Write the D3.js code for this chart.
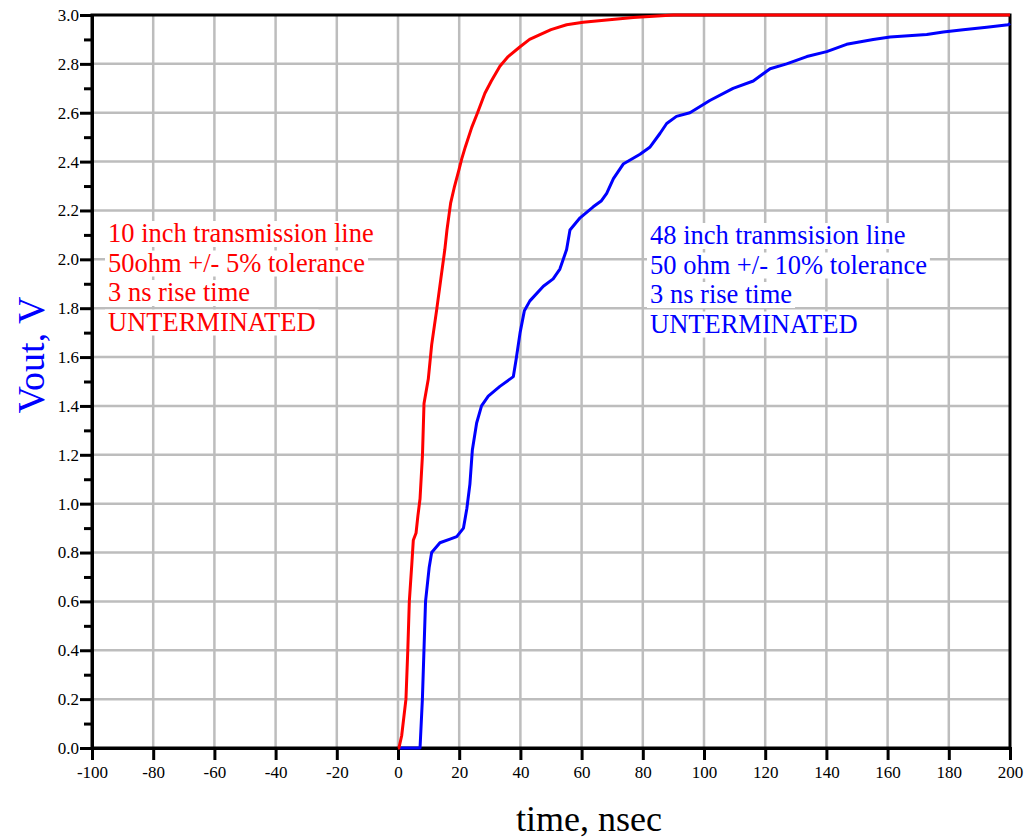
<!DOCTYPE html>
<html>
<head>
<meta charset="utf-8">
<script src="https://cdn.jsdelivr.net/npm/d3@7"></script>
<style>
  body { margin: 0; background: #fff; }
  svg { display: block; font-family: "Liberation Serif", "Times New Roman", serif; }
</style>
</head>
<body>
<svg id="chart"></svg>
<script>
// values (time in ns, Vout in V)
const redTime  = [0, 0.3, 1.2, 2.6, 3.2, 3.7, 4.5, 5.0, 5.9, 6.5, 7.2, 8.0, 8.5, 9.9, 11, 12.6, 14, 15.3, 16, 17.2, 18.5, 20, 20.8, 22, 24.1, 26, 28.4, 30.5, 33.3, 36, 39.9, 43, 46.4, 50, 55.1, 60.5, 68.2, 76.9, 90, 200];
const redVolts = [0, 0, 0.05, 0.2, 0.4, 0.6, 0.75, 0.85, 0.88, 0.95, 1.02, 1.2, 1.41, 1.51, 1.65, 1.79, 1.92, 2.04, 2.12, 2.23, 2.3, 2.37, 2.41, 2.46, 2.54, 2.6, 2.68, 2.73, 2.79, 2.83, 2.87, 2.9, 2.92, 2.94, 2.96, 2.97, 2.98, 2.99, 3.0, 3.0];

const blueTime  = [0.5, 7.2, 7.97, 9.0, 10.2, 11.0, 13.7, 17, 19.2, 21.4, 22.5, 23.5, 24.3, 25.7, 27.3, 29.5, 33.3, 37.7, 38.6, 39.9, 41.3, 43.1, 47.5, 50.7, 52.9, 55.1, 56.2, 59.5, 63.8, 66.5, 68.2, 70.4, 73.6, 79.1, 82.4, 85.6, 87.8, 91, 95.4, 101.9, 109.5, 116.1, 121.6, 127, 133.6, 140.1, 146.6, 155.3, 160.8, 172.8, 178.2, 184.7, 192.4, 199.4, 200];
const blueVolts = [0, 0, 0.2, 0.6, 0.74, 0.8, 0.84, 0.855, 0.865, 0.9, 0.98, 1.08, 1.22, 1.33, 1.4, 1.44, 1.48, 1.52, 1.59, 1.7, 1.79, 1.83, 1.89, 1.92, 1.96, 2.04, 2.12, 2.17, 2.215, 2.24, 2.27, 2.33, 2.39, 2.43, 2.46, 2.515, 2.556, 2.585, 2.6, 2.65, 2.7, 2.73, 2.78, 2.8, 2.83, 2.85, 2.88, 2.9, 2.91, 2.92, 2.93, 2.94, 2.95, 2.96, 2.965];

const xTicks = d3.range(-100, 201, 20);
const yTicks = d3.range(0, 31, 2).map(d => d / 10);
const yMinor = d3.range(1, 30, 2).map(d => d / 10);

const redNotes  = ["10 inch transmission line", "50ohm +/- 5% tolerance", "3 ns rise time", "UNTERMINATED"];
const blueNotes = ["48 inch tranmsision line", "50 ohm +/- 10% tolerance", "3 ns rise time", "UNTERMINATED"];

const width = 1026, height = 839;
const margin = { top: 15, right: 16, bottom: 91, left: 92 };

const x = d3.scaleLinear().domain([-100, 200]).range([margin.left, width - margin.right]);
const y = d3.scaleLinear().domain([0, 3]).range([height - margin.bottom, margin.top]);

const svg = d3.select("#chart")
    .attr("width", width)
    .attr("height", height)
    .attr("viewBox", `0 0 ${width} ${height}`);

// grid
const grid = svg.append("g").attr("stroke", "#bdbdbd").attr("stroke-width", 2.5);
grid.selectAll(".vg")
  .data(xTicks.slice(1, -1))
  .enter().append("line")
    .attr("x1", d => x(d)).attr("x2", d => x(d))
    .attr("y1", y(3)).attr("y2", y(0));
grid.selectAll(".hg")
  .data(yTicks.slice(1, -1))
  .enter().append("line")
    .attr("x1", x(-100)).attr("x2", x(200))
    .attr("y1", d => y(d)).attr("y2", d => y(d));

// notes with white boxes behind each line
function notes(lines, tx, ty, color) {
  const g = svg.append("g");
  lines.forEach((s, i) => {
    const row = g.append("g");
    const t = row.append("text")
        .attr("x", tx)
        .attr("y", ty + i * 29.5)
        .attr("fill", color)
        .style("font-size", "26.5px")
        .text(s);
    const b = t.node().getBBox();
    row.insert("rect", "text")
        .attr("x", b.x - 3).attr("y", b.y + 3)
        .attr("width", b.width + 6).attr("height", b.height - 4)
        .attr("fill", "#fff");
  });
}
notes(redNotes, 108, 242, "#ff0000");
notes(blueNotes, 650, 244, "#0000ff");

// frame
svg.append("rect")
    .attr("x", x(-100)).attr("y", y(3))
    .attr("width", x(200) - x(-100)).attr("height", y(0) - y(3))
    .attr("fill", "none").attr("stroke", "#000").attr("stroke-width", 3);

// axes
const tickFont = g => g.selectAll(".tick text")
    .attr("fill", "#000")
    .style("font-size", "17px")
    .style("font-family", "Liberation Serif");

svg.append("g")
    .attr("transform", `translate(0,${y(0)})`)
    .call(d3.axisBottom(x).tickValues(xTicks).tickSize(12).tickPadding(6).tickFormat(d => String(d)))
    .call(g => g.select(".domain").attr("stroke-width", 3))
    .call(g => g.selectAll(".tick line").attr("stroke-width", 3))
    .call(tickFont);

svg.append("g")
    .attr("transform", `translate(${x(-100)},0)`)
    .call(d3.axisLeft(y).tickValues(yMinor).tickSize(8).tickFormat(""))
    .call(g => g.select(".domain").remove())
    .call(g => g.selectAll(".tick line").attr("stroke-width", 3));

svg.append("g")
    .attr("transform", `translate(${x(-100)},0)`)
    .call(d3.axisLeft(y).tickValues(yTicks).tickSize(12).tickPadding(1).tickFormat(d3.format(".1f")))
    .call(g => g.select(".domain").attr("stroke-width", 3))
    .call(g => g.selectAll(".tick line").attr("stroke-width", 3))
    .call(tickFont);

// curves
const line = d3.line().x(d => x(d[0])).y(d => y(d[1]));
svg.append("path")
    .datum(d3.zip(blueTime, blueVolts))
    .attr("fill", "none").attr("stroke", "#0000ff").attr("stroke-width", 3)
    .attr("stroke-linejoin", "round")
    .attr("d", line);
svg.append("path")
    .datum(d3.zip(redTime, redVolts))
    .attr("fill", "none").attr("stroke", "#ff0000").attr("stroke-width", 3)
    .attr("stroke-linejoin", "round")
    .attr("d", line);

// axis titles
svg.append("text")
    .attr("transform", `translate(44,355) rotate(-90)`)
    .attr("text-anchor", "middle")
    .attr("fill", "#0000ff")
    .style("font-size", "38px")
    .text("Vout, V");

svg.append("text")
    .attr("x", 589).attr("y", 831)
    .attr("text-anchor", "middle")
    .attr("fill", "#000")
    .style("font-size", "36px")
    .text("time, nsec");
</script>
</body>
</html>
